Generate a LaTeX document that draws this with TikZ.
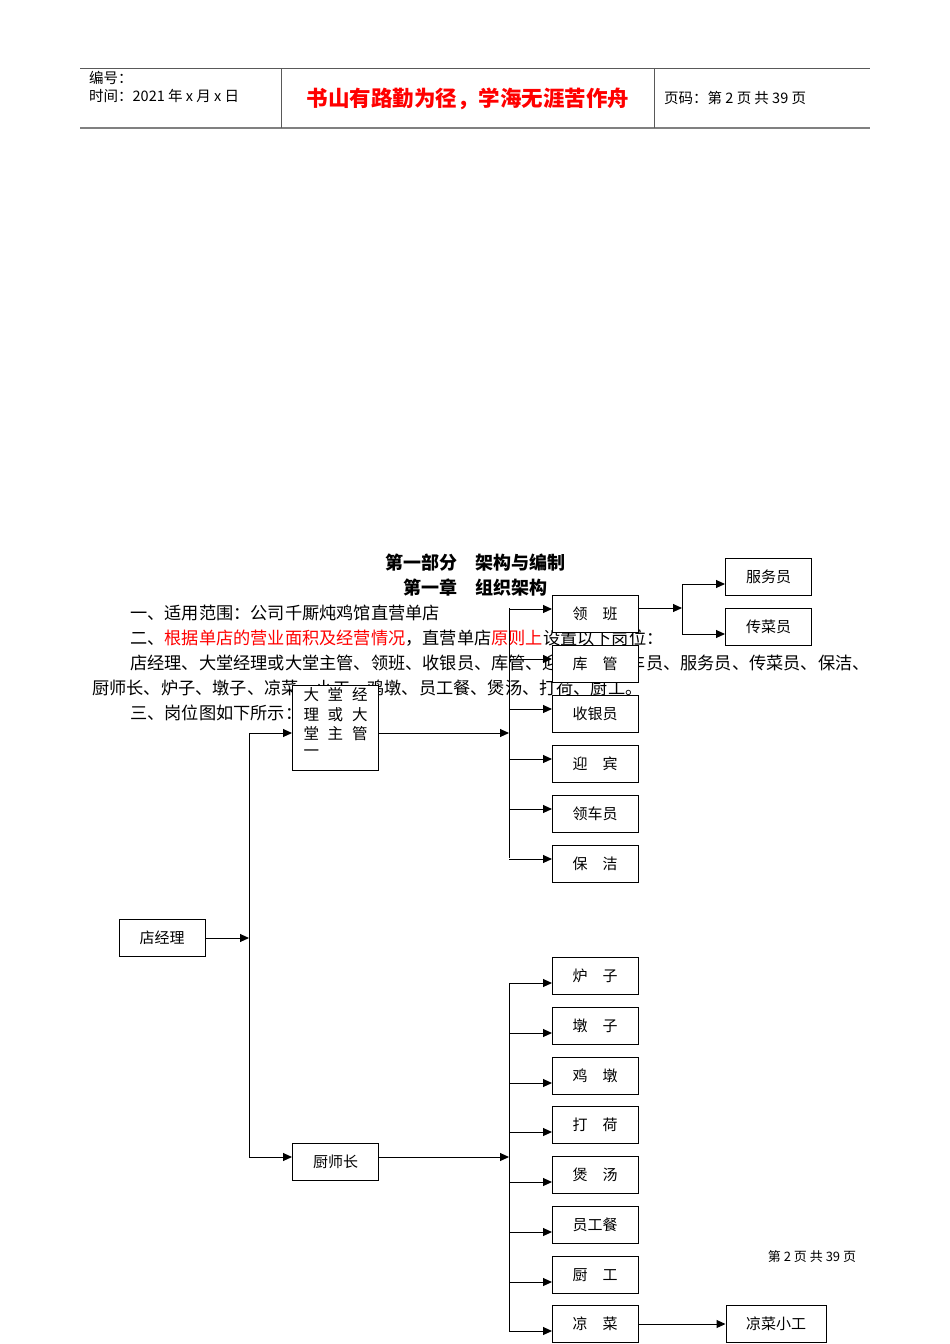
\documentclass[tikz,border=0pt]{standalone}
\usepackage{fontspec}
\setmainfont{Noto Sans CJK SC}
\usetikzlibrary{arrows.meta}
\begin{document}
\begin{tikzpicture}[x=1pt,y=-1pt,
  bx/.style={draw,fill=white,minimum width=86pt,minimum height=37pt,inner sep=1pt,font=\fontsize{15}{17}\selectfont,line width=1pt},
  ar/.style={-{Triangle[length=9pt,width=8pt]},line width=1pt},
  ln/.style={line width=1pt},
  bt/.style={anchor=west,inner sep=0pt,font=\fontsize{17.2}{20}\selectfont}]
\useasboundingbox (0,0) rectangle (950,1344);
% header
\draw[line width=0.8pt,gray!70!black] (80,68) -- (870,68);
\draw[line width=1.5pt,gray] (80,128) -- (870,128);
\draw[line width=0.6pt,gray!70!black] (281,68) -- (281,128) (654,68) -- (654,128);
\node[anchor=west,inner sep=0pt,font=\fontsize{14.5}{16}\selectfont] (h1) at (89,78) {编号：};
\node[anchor=west,inner sep=0pt,font=\fontsize{14.5}{16}\selectfont] (h2) at (89,96) {时间：2021 年 x 月 x 日};
\node[inner sep=0pt,text=red,font=\fontsize{21.5}{23}\selectfont\bfseries] (h3) at (468,99) {书山有路勤为径，学海无涯苦作舟};
\node[anchor=west,inner sep=0pt,font=\fontsize{14.5}{16}\selectfont] (h4) at (664,98) {页码：第 2 页 共 39 页};
% titles and body
\node[inner sep=0pt,font=\fontsize{18}{20}\selectfont\bfseries] (t1) at (475,563) {第一部分\quad 架构与编制};
\node[inner sep=0pt,font=\fontsize{18}{20}\selectfont\bfseries] (t2) at (475,588) {第一章\quad 组织架构};
\node[bt] (l1) at (130,613) {一、适用范围：公司千厮炖鸡馆直营单店};
\node[bt] (l2) at (130,638) {二、\textcolor{red}{根据单店的营业面积及经营情况}，直营单店\textcolor{red}{原则上}设置以下岗位：};
\node[bt] (l3) at (130,663) {店经理、大堂经理或大堂主管、领班、收银员、库管、迎宾员、领车员、服务员、传菜员、保洁、};
\node[bt] (l4) at (92,688) {厨师长、炉子、墩子、凉菜、小工、鸡墩、员工餐、煲汤、打荷、厨工。};
\node[bt] (l5) at (130,713) {三、岗位图如下所示：};
\node[inner sep=0pt,font=\fontsize{13}{15}\selectfont] (ft) at (812,1257) {第 2 页 共 39 页};
% boxes
\node[bx] (m) at (162,938) {店经理};
\node[bx,minimum height=85pt,text width=64pt,align=left,anchor=north] (d) at (335.5,685) {\fontsize{15.5}{19.5}\selectfont 大\hfill 堂\hfill 经\\ 理\hfill 或\hfill 大\\ 堂\hfill 主\hfill 管\\ 一\vphantom{g}\vspace{8pt}};
\node[bx] (c) at (335.5,1162) {厨师长};
\foreach \n/\t/\y in {a1/领\quad 班/614,a2/库\quad 管/664,a3/收银员/714,a4/迎\quad 宾/764,a5/领车员/814,a6/保\quad 洁/864,
  k1/炉\quad 子/976,k2/墩\quad 子/1026,k3/鸡\quad 墩/1076,k4/打\quad 荷/1125,k5/煲\quad 汤/1175,k6/员工餐/1225,k7/厨\quad 工/1275,k8/凉\quad 菜/1324}
  \node[bx] (\n) at (595,\y) {\t};
\node[bx] (s1) at (768.5,577) {服务员};
\node[bx] (s2) at (768.5,627) {传菜员};
\node[bx,minimum width=100pt] (lx) at (776,1324) {凉菜小工};
% connectors
\coordinate (v1) at (249,733); \coordinate (v2) at (249,1157);
\draw[ar] (m.east) -- (m.east -| v1);
\draw[ln] (v1) -- (v2);
\draw[ar] (v1) -- (d.west |- v1);
\draw[ar] (v2) -- (c.west |- v2);
\coordinate (b1) at (509,608); \coordinate (b2) at (509,858);
\draw[ln] (b1) -- (b2);
\draw[ar] (d.east |- 0,733) -- (509,733);
\foreach \n in {a1,a2,a3,a4,a5,a6} \draw[ar] (509,0 |- \n.center) ++(0,-5) -- ++(43,0);
\coordinate (b3) at (509,983); \coordinate (b4) at (509,1331);
\draw[ln] (b3) -- (b4);
\draw[ar] (c.east |- 0,1157) -- (509,1157);
\foreach \n in {k1,k2,k3,k4,k5,k6,k7,k8} \draw[ar] (509,0 |- \n.center) ++(0,7) -- ++(43,0);
\draw[ar] (a1.east |- 0,608) -- (682,608);
\draw[ln] (682,584) -- (682,634);
\draw[ar] (682,584) -- (s1.west |- 0,584);
\draw[ar] (682,634) -- (s2.west |- 0,634);
\draw[ar] (k8) -- (lx);
\end{tikzpicture}
\end{document}
